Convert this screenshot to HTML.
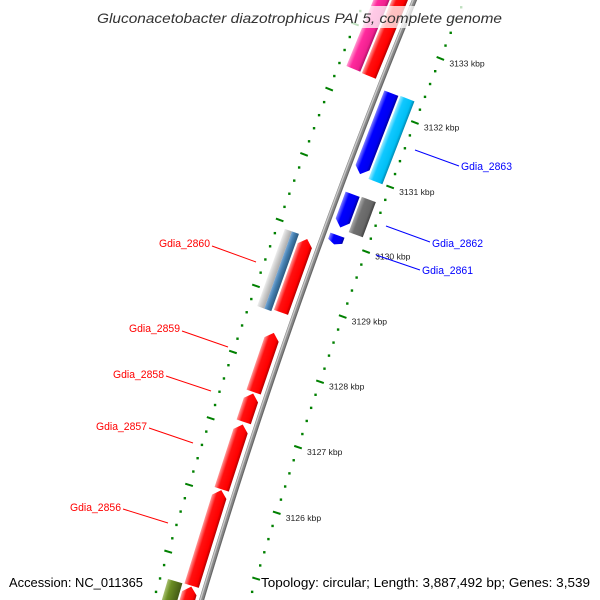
<!DOCTYPE html>
<html><head><meta charset="utf-8"><style>
html,body{margin:0;padding:0;background:#fff;width:600px;height:600px;overflow:hidden;}
svg{display:block;font-family:"Liberation Sans","DejaVu Sans",sans-serif;}
</style></head><body>
<svg id="map" width="600" height="600" viewBox="0 0 600 600" xmlns="http://www.w3.org/2000/svg">
<defs>
 <linearGradient id="gRed" x1="0" x2="1" y1="0" y2="0"><stop offset="0" stop-color="#ff9a9a"/><stop offset="0.3" stop-color="#ff1010"/><stop offset="0.8" stop-color="#f00"/><stop offset="1" stop-color="#b00000"/></linearGradient>
 <linearGradient id="gPink" x1="0" x2="1" y1="0" y2="0"><stop offset="0" stop-color="#ff9ad0"/><stop offset="0.3" stop-color="#ff2a9d"/><stop offset="0.8" stop-color="#f0208f"/><stop offset="1" stop-color="#b01068"/></linearGradient>
 <linearGradient id="gBlue" x1="0" x2="1" y1="0" y2="0"><stop offset="0" stop-color="#8080ff"/><stop offset="0.3" stop-color="#0000ff"/><stop offset="0.8" stop-color="#0000f0"/><stop offset="1" stop-color="#0000a0"/></linearGradient>
 <linearGradient id="gCyan" x1="0" x2="1" y1="0" y2="0"><stop offset="0" stop-color="#9eeaff"/><stop offset="0.3" stop-color="#10c8ff"/><stop offset="0.8" stop-color="#00bff5"/><stop offset="1" stop-color="#0088b0"/></linearGradient>
 <linearGradient id="gGray" x1="0" x2="1" y1="0" y2="0"><stop offset="0" stop-color="#aaa"/><stop offset="0.3" stop-color="#707070"/><stop offset="0.8" stop-color="#666"/><stop offset="1" stop-color="#404040"/></linearGradient>
 <linearGradient id="gLight" x1="0" x2="1" y1="0" y2="0"><stop offset="0" stop-color="#eee"/><stop offset="0.4" stop-color="#d0d0d0"/><stop offset="1" stop-color="#aaa"/></linearGradient>
 <linearGradient id="gSteel" x1="0" x2="1" y1="0" y2="0"><stop offset="0" stop-color="#7aa8d4"/><stop offset="0.4" stop-color="#4682b4"/><stop offset="1" stop-color="#2c5a80"/></linearGradient>
 <linearGradient id="gOlive" x1="0" x2="1" y1="0" y2="0"><stop offset="0" stop-color="#a8c070"/><stop offset="0.3" stop-color="#6b8e23"/><stop offset="1" stop-color="#445a15"/></linearGradient>
</defs>
<g id="rings"></g>
<g id="backbone"></g>
<g id="genes"></g>
<g id="labels"></g>
</svg>
<script>
// genome data (kbp)
const geneStarts = [3123.0, 3124.63, 3126.08, 3127.10, 3127.55, 3128.76, 3128.73, 3129.94, 3130.18, 3130.20, 3131.02, 3131.00, 3132.38, 3132.39, 3123.0];
const geneEnds   = [3124.62, 3126.07, 3127.06, 3127.53, 3128.45, 3129.88, 3129.91, 3130.08, 3130.72, 3130.71, 3132.27, 3132.28, 3134.5, 3134.5, 3124.63];
const geneStrand = [1, 1, 1, 1, 1, 1, 0, -1, 0, -1, -1, 0, 1, 0, 0];
const geneLane   = ['L1','L1','L1','L1','L1','L1','L2','R1','R2','R1','R1','R2','L1','L2','L2'];
const geneFill   = ['gRed','gRed','gRed','gRed','gRed','gRed','split','gBlue','gGray','gBlue','gBlue','gCyan','gRed','gPink','gOlive'];
const geneNames  = ['gene-3123','gdia-2856','gdia-2857','gdia-2858','gdia-2859','gdia-2860','gdia-2860-feature','gdia-2861','gdia-2862','gene-small-blue','gene-blue-3131','gdia-2863','gene-red-top','gene-pink-top','gene-olive'];
const tickKbp = [3126, 3127, 3128, 3129, 3130, 3131, 3132, 3133];
const tickLabels = ['3126 kbp','3127 kbp','3128 kbp','3129 kbp','3130 kbp','3131 kbp','3132 kbp','3133 kbp'];

const NS = 'http://www.w3.org/2000/svg';
const B0 = [303.3, 290], P0 = 3129.171, L = 69.5, R = 6500, A0 = 19.6 * Math.PI / 180;
const C = [B0[0] + R * Math.cos(A0), B0[1] + R * Math.sin(A0)];
function ang(p){ return A0 + (p - P0) * L / R; }
function pt(p, d){ const a = ang(p); return [C[0] - (R - d) * Math.cos(a), C[1] - (R - d) * Math.sin(a)]; }
const lanes = {L1:[-21,-6], L2:[-38,-23], R1:[6,21], R2:[23,38]};
function mk(tag, attrs, parent){ const e = document.createElementNS(NS, tag); for (const k in attrs) e.setAttribute(k, attrs[k]); parent.appendChild(e); return e; }

// rings
const rings = document.getElementById('rings');
for (const side of [-46, 46]) {
  for (let i = Math.round(3122*5); i <= Math.round(3135*5); i++) {
    const p = i / 5, q = pt(p, side);
    if (i % 5 === 0) {
      const q1 = pt(p, side - 4), q2 = pt(p, side + 4);
      const ln = mk('line', {x1:q1[0], y1:q1[1], x2:q2[0], y2:q2[1], stroke:'#008000', 'stroke-width':2}, rings);
      
      
    } else {
      const r = mk('rect', {x:q[0]-1.2, y:q[1]-1.2, width:2.4, height:2.4, fill:'#008000'}, rings);
      
      
    }
  }
}
tickKbp.forEach((k, i) => {
  const q = pt(k, 46);
  const t = mk('text', {x:q[0]+9, y:q[1]+8, 'font-size':8.6, fill:'#222'}, rings);
  t.textContent = tickLabels[i];
  
  
});

// backbone
const bb = document.getElementById('backbone');
function arcPath(d){ let s = ''; for (let p = 3122; p <= 3135.6; p += 0.2){ const q = pt(p, d); s += (s ? 'L' : 'M') + q[0].toFixed(2) + ' ' + q[1].toFixed(2); } return s; }
const bl = mk('path', {d:arcPath(0), stroke:'#8a8a8a', 'stroke-width':5, fill:'none'}, bb);


mk('path', {d:arcPath(-1.2), stroke:'#c8c8c8', 'stroke-width':1.4, fill:'none'}, bb);
mk('path', {d:arcPath(1.8), stroke:'#666', 'stroke-width':1, fill:'none'}, bb);

// genes
const gg = document.getElementById('genes');
function geneShape(d1, d2, len, strand){
  const h = Math.min(7, len/3), m = (d1 + d2)/2, y0 = -len/2, y1 = len/2;
  if (strand === 1) return `${d1},${y1} ${d2},${y1} ${d2},${y0+h} ${m},${y0} ${d1},${y0+h}`;
  if (strand === -1) return `${d1},${y0} ${d2},${y0} ${d2},${y1-h} ${m},${y1} ${d1},${y1-h}`;
  return `${d1},${y0} ${d2},${y0} ${d2},${y1} ${d1},${y1}`;
}
geneStarts.forEach((s, i) => {
  const e = geneEnds[i], pm = (s + e)/2, len = (e - s) * L, q = pt(pm, 0), deg = ang(pm) * 180 / Math.PI;
  const [d1, d2] = lanes[geneLane[i]];
  const g = mk('g', {transform:`translate(${q[0]},${q[1]}) rotate(${deg})`}, gg);
  
  
  if (geneFill[i] === 'split') {
    const mid = (d1 + d2)/2;
    mk('polygon', {points:geneShape(d1, mid, len, 0), fill:'url(#gLight)'}, g);
    mk('polygon', {points:geneShape(mid, d2, len, 0), fill:'url(#gSteel)'}, g);
  } else {
    mk('polygon', {points:geneShape(d1, d2, len, geneStrand[i]), fill:`url(#${geneFill[i]})`}, g);
  }
});

// labels
(function(){
  const svg = document.getElementById('labels');
  const items = [
    ['Gdia_2863','#0000ff',461,170,'start',[415,150,459,166]],
    ['Gdia_2862','#0000ff',432,247,'start',[386,226,430,242]],
    ['Gdia_2861','#0000ff',422,274,'start',[376,255,420,270]],
    ['Gdia_2860','#ff0000',210,247,'end',[212,246,256,262]],
    ['Gdia_2859','#ff0000',180,332,'end',[182,331,228,347]],
    ['Gdia_2858','#ff0000',164,378,'end',[166,376,211,391]],
    ['Gdia_2857','#ff0000',147,430,'end',[149,428,193,443]],
    ['Gdia_2856','#ff0000',121,511,'end',[123,509,168,523]]
  ];
  items.forEach(it => {
    const ln = document.createElementNS(NS,'line');
    ln.setAttribute('x1',it[5][0]); ln.setAttribute('y1',it[5][1]); ln.setAttribute('x2',it[5][2]); ln.setAttribute('y2',it[5][3]);
    ln.setAttribute('stroke',it[1]); ln.setAttribute('stroke-width','1');
    
    
    svg.appendChild(ln);
    const t = document.createElementNS(NS,'text');
    t.setAttribute('x',it[2]); t.setAttribute('y',it[3]); t.setAttribute('fill',it[1]);
    t.setAttribute('font-size','11'); t.setAttribute('text-anchor',it[4]);
    t.setAttribute('textLength','51'); t.setAttribute('lengthAdjust','spacingAndGlyphs');
    t.textContent = it[0];
    
    
    svg.appendChild(t);
  });
  const bg = document.createElementNS(NS,'rect');
  bg.setAttribute('x','94'); bg.setAttribute('y','6'); bg.setAttribute('width','412'); bg.setAttribute('height','22');
  bg.setAttribute('fill','#fff'); bg.setAttribute('fill-opacity','0.75');
  
  
  svg.appendChild(bg);
  const title = document.createElementNS(NS,'text');
  title.setAttribute('x','97'); title.setAttribute('y','23'); title.setAttribute('font-size','14');
  title.setAttribute('font-style','italic'); title.setAttribute('fill','#333');
  title.setAttribute('textLength','405'); title.setAttribute('lengthAdjust','spacingAndGlyphs');
  title.textContent = 'Gluconacetobacter diazotrophicus PAI 5, complete genome';
  
  
  svg.appendChild(title);
  const acc = document.createElementNS(NS,'text');
  acc.setAttribute('x','9'); acc.setAttribute('y','587'); acc.setAttribute('font-size','13'); acc.setAttribute('fill','#000');
  acc.setAttribute('textLength','134'); acc.setAttribute('lengthAdjust','spacingAndGlyphs');
  acc.textContent = 'Accession: NC_011365';
  
  
  svg.appendChild(acc);
  const topo = document.createElementNS(NS,'text');
  topo.setAttribute('x','261'); topo.setAttribute('y','587'); topo.setAttribute('font-size','13'); topo.setAttribute('fill','#000');
  topo.setAttribute('textLength','329'); topo.setAttribute('lengthAdjust','spacingAndGlyphs');
  topo.textContent = 'Topology: circular; Length: 3,887,492 bp; Genes: 3,539';
  
  
  svg.appendChild(topo);
})();
</script>
</body></html>
